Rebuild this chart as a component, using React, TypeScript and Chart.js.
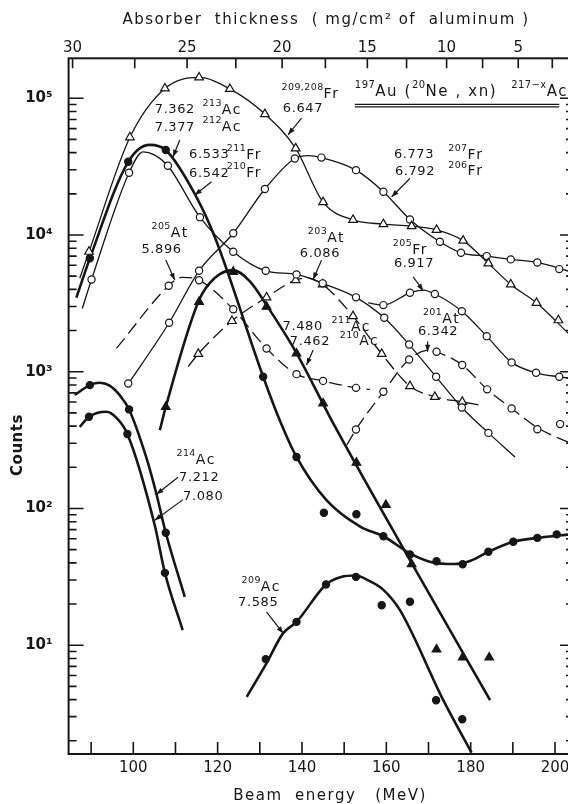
import { useEffect, useRef } from 'react';
import { Chart, registerables } from 'chart.js';

Chart.register(...registerables);

const INK = '#161616';
const FONT = "'DejaVu Sans', sans-serif";

// ---- axis ranges -------------------------------------------------------
const ENERGY_MIN = 84.66;
const ENERGY_MAX = 203.55;
const COUNTS_MIN = 1.6;
const COUNTS_MAX = 196000;

// beam energy ticks (MeV)
const energyTicks = [90, 100, 110, 120, 130, 140, 150, 160, 170, 180, 190, 200];
// absorber thickness (mg/cm² Al) and the beam energy each thickness gives
const absorberTicks = [30, 27.5, 25, 22.5, 20, 17.5, 15, 12.5, 10, 7.5, 5, 2.5];
const absorberEnergy = [85.6, 100.34, 112.75, 124.31, 135.29, 145.54, 155.5, 164.8, 174.29, 182.83, 191.28, 199.35];
const absorberLabels = [30, 25, 20, 15, 10, 5];
const countDecades = [10, 100, 1000, 10000, 100000];

// ---- excitation functions ----------------------------------------------
// 209,208Fr  (6.647 MeV)  open triangles
const fr209PointE = [89.5, 99.2, 107.5, 115.6, 122.9, 131.2, 138.5, 145.0, 152.1, 159.3, 166.0, 171.9, 178.2, 184.2, 189.5, 195.6, 200.8];
const fr209PointC = [7540, 51800, 118000, 142000, 117000, 76600, 43000, 17400, 12900, 12000, 11600, 10900, 9100, 6200, 4350, 3190, 2380];
const fr209CurveE = [87.3, 89.5, 99.2, 107.5, 115.6, 122.9, 131.2, 138.5, 145.0, 152.1, 159.3, 166.0, 171.9, 178.2, 184.2, 189.5, 195.6, 203.6];
const fr209CurveC = [4820, 7540, 51800, 118000, 142000, 117000, 76600, 43000, 17400, 12900, 12000, 11600, 10900, 9100, 6200, 4350, 3190, 1850];

// 207,206Fr  (6.773 / 6.792 MeV)  open circles
const fr207PointE = [98.8, 108.5, 115.6, 123.7, 131.2, 138.3, 144.6, 152.8, 159.3, 165.6, 172.7, 177.7, 183.8, 189.5, 195.8, 201.0];
const fr207PointC = [820, 2280, 5470, 10300, 21700, 36300, 36800, 29800, 20700, 13000, 8920, 7410, 7010, 6630, 6300, 5630];
const fr207CurveE = [98.4, 108.5, 115.6, 123.7, 131.2, 138.3, 141.5, 144.6, 152.8, 159.3, 165.6, 172.7, 177.7, 183.8, 189.5, 195.8, 203.6];
const fr207CurveC = [780, 2280, 5470, 10300, 21700, 36300, 38000, 36800, 29800, 20700, 13000, 8920, 7410, 7010, 6630, 6300, 5400];

// 211,210Fr  (6.533 / 6.542 MeV)  open circles
const fr211PointE = [90.1, 99.0, 108.2, 115.8, 123.7, 131.4, 138.7, 144.9, 152.8, 159.5, 165.4, 171.8, 177.9, 184.2];
const fr211PointC = [4730, 28500, 32100, 13500, 7540, 5470, 5150, 4430, 3500, 2480, 1580, 918, 548, 357];
const fr211CurveE = [87.9, 90.1, 99.0, 102.3, 105.1, 108.2, 115.8, 123.7, 131.4, 138.7, 144.9, 152.8, 159.5, 165.4, 171.8, 177.9, 184.2, 190.5];
const fr211CurveC = [2900, 4730, 28500, 40600, 38400, 32100, 13500, 7540, 5470, 5150, 4430, 3500, 2480, 1580, 918, 548, 357, 238];

// 213,212Ac  (7.362 / 7.377 MeV)  filled circles
const ac213PointE = [89.7, 98.8, 107.7, 130.8, 138.7, 145.2, 152.9, 159.3, 165.6, 171.9, 178.1, 184.2, 190.1, 195.8, 200.4];
const ac213PointC = [6750, 34300, 41800, 918, 238, 92.9, 90.8, 62.6, 46.1, 41.1, 39.1, 48.2, 57.1, 60.9, 64.6];
const ac213CurveE = [86.5, 89.7, 98.8, 103.9, 107.7, 114.6, 119.3, 130.8, 134.7, 138.7, 145.8, 153.9, 159.3, 165.6, 171.0, 176.0, 180.0, 184.2, 190.1, 195.8, 203.6];
const ac213CurveC = [3480, 6750, 34300, 45600, 41800, 19900, 9710, 918, 443, 238, 115, 73.3, 62.6, 46.9, 40.2, 39.2, 41.5, 48.2, 57.1, 60.9, 64.6];

// 211,210Ac  (7.480 / 7.462 MeV)  filled triangles
const ac211PointE = [107.7, 115.6, 123.7, 131.6, 138.7, 145.0, 152.9, 159.9, 166.0, 171.9, 178.1, 184.4];
const ac211PointC = [553, 3240, 5380, 2990, 1360, 587, 216, 106, 39.1, 9.31, 8.13, 8.13];
const ac211CurveE = [106.3, 107.7, 115.6, 119.3, 123.7, 127.6, 131.6, 138.7, 147.0, 165.6, 184.6];
const ac211CurveC = [374, 553, 3340, 4840, 5530, 4600, 3070, 1370, 443, 41.9, 3.96];

// 214Ac  (7.212 MeV)  filled circles
const ac214aPointE = [89.7, 99.0, 107.7];
const ac214aPointC = [798, 530, 66.4];
const ac214aCurveE = [86.1, 89.7, 92.0, 94.4, 97.0, 99.0, 103.1, 105.5, 107.7, 112.2];
const ac214aCurveC = [676, 798, 830, 790, 660, 530, 235, 127, 66.4, 22.6];

// 214Ac  (7.080 MeV)  filled circles
const ac214bPointE = [89.5, 98.6, 107.5];
const ac214bPointC = [468, 350, 33.8];
const ac214bCurveE = [87.3, 89.5, 93.6, 96.0, 98.6, 105.1, 107.5, 111.7];
const ac214bCurveC = [395, 468, 509, 460, 350, 75, 33.8, 12.9];

// 209Ac  (7.585 MeV)  filled circles
const ac209PointE = [131.4, 138.7, 145.7, 152.8, 158.9, 165.6, 171.8, 178.0];
const ac209PointC = [7.91, 14.8, 27.8, 31.6, 19.6, 20.8, 3.96, 2.87];
const ac209CurveE = [126.9, 131.4, 135.5, 138.7, 145.7, 149.3, 152.6, 156.0, 159.3, 163.2, 173.5, 180.2];
const ac209CurveC = [4.19, 7.2, 12.2, 14.8, 27.8, 31.5, 32.3, 29.5, 25.4, 18.1, 3.96, 1.64];

// 205At  (5.896 MeV)  open circles, dashed
const at205PointE = [108.4, 115.6, 123.7, 131.6, 138.7, 145.0, 152.8];
const at205PointC = [4250, 4670, 2860, 1480, 960, 857, 762];
const at205CurveE = [96.0, 108.4, 111.5, 115.6, 123.7, 131.6, 138.7, 145.0, 152.8, 156.1];
const at205CurveC = [1480, 4250, 4900, 4670, 2860, 1480, 960, 857, 762, 743];

// 203At  (6.086 MeV)  open triangles, dashed
const at203PointE = [115.4, 123.4, 131.6, 138.5, 144.9, 152.1, 158.9, 165.6, 171.5, 178.0];
const at203PointC = [1350, 2350, 3500, 4680, 4350, 2550, 1350, 785, 655, 602];
const at203CurveE = [113.0, 115.4, 123.4, 131.6, 138.5, 141.4, 144.9, 152.1, 158.9, 165.6, 171.5, 178.0, 182.2];
const at203CurveC = [1090, 1350, 2350, 3500, 4680, 4840, 4350, 2550, 1350, 785, 655, 602, 570];

// 201At  (6.342 MeV)  open circles, dashed
const at201PointE = [152.8, 159.3, 165.4, 171.9, 178.0, 183.9, 189.7, 195.8, 201.2];
const at201PointC = [378, 713, 1230, 1400, 1120, 743, 539, 380, 414];
const at201CurveE = [150.6, 152.8, 159.3, 165.4, 170.3, 171.9, 178.0, 183.9, 189.7, 195.8, 203.6];
const at201CurveC = [290, 378, 713, 1230, 1440, 1400, 1120, 743, 539, 390, 300];

// 205Fr  (6.917 MeV)  open circles
const fr205PointE = [159.3, 165.6, 171.5, 177.9, 183.8, 189.7, 195.5, 201.0];
const fr205PointC = [3070, 3780, 3700, 2770, 1820, 1170, 982, 918];
const fr205CurveE = [155.7, 159.3, 165.6, 168.8, 171.5, 177.9, 183.8, 189.7, 195.5, 201.0, 203.6];
const fr205CurveC = [3190, 3070, 3780, 3950, 3700, 2770, 1820, 1170, 982, 918, 897];

// ---- annotations (anchored in beam energy / counts) --------------------
const alphaNotes = [
  { text: '6.647', e: 135.46, c: 84100 },
  { text: '7.362', e: 105.09, c: 82000 },
  { text: '7.377', e: 105.09, c: 61300 },
  { text: '6.533', e: 113.23, c: 38500 },
  { text: '6.542', e: 113.23, c: 28200 },
  { text: '6.773', e: 161.79, c: 38500 },
  { text: '6.792', e: 162.03, c: 29000 },
  { text: '5.896', e: 101.93, c: 7760 },
  { text: '6.086', e: 139.49, c: 7330 },
  { text: '6.917', e: 161.79, c: 6200 },
  { text: '6.342', e: 167.49, c: 1960 },
  { text: '7.480', e: 135.39, c: 2130 },
  { text: '7.462', e: 137.12, c: 1660 },
  { text: '7.212', e: 110.85, c: 169 },
  { text: '7.080', e: 111.8, c: 122 },
  { text: '7.585', e: 124.85, c: 20.4 },
];

const isotopeNotes = [
  { mass: '209,208', sym: 'Fr', e: 135.15, c: 107400 },
  { mass: '213', sym: 'Ac', e: 116.41, c: 82000 },
  { mass: '212', sym: 'Ac', e: 116.41, c: 61300 },
  { mass: '211', sym: 'Fr', e: 122.17, c: 38500 },
  { mass: '210', sym: 'Fr', e: 122.17, c: 28200 },
  { mass: '207', sym: 'Fr', e: 174.67, c: 38500 },
  { mass: '206', sym: 'Fr', e: 174.67, c: 29000 },
  { mass: '205', sym: 'At', e: 104.31, c: 10300 },
  { mass: '203', sym: 'At', e: 141.39, c: 9490 },
  { mass: '205', sym: 'Fr', e: 161.55, c: 7760 },
  { mass: '201', sym: 'At', e: 168.67, c: 2430 },
  { mass: '211', sym: 'Ac', e: 147.01, c: 2120 },
  { mass: '210', sym: 'Ac', e: 148.98, c: 1660 },
  { mass: '214', sym: 'Ac', e: 110.24, c: 225 },
  { mass: '209', sym: 'Ac', e: 125.66, c: 26.5 },
];

const arrowNotes = [
  { from: [139.89, 71700], to: [136.71, 54200] },
  { from: [111.02, 49500], to: [109.43, 37300] },
  { from: [118.54, 24500], to: [114.58, 19600] },
  { from: [165.59, 25900], to: [161.25, 19000] },
  { from: [107.7, 6550], to: [109.83, 4680] },
  { from: [144.64, 6550], to: [142.65, 4730] },
  { from: [166.37, 4940], to: [168.74, 3910] },
  { from: [169.79, 1660], to: [169.79, 1400] },
  { from: [142.65, 1440], to: [141.08, 1120] },
  { from: [110.62, 169], to: [105.49, 127] },
  { from: [111.8, 116], to: [105.09, 82.1] },
  { from: [131.59, 17.5], to: [135.53, 12.2] },
];

const reactionNote = { e: 152.54, c: 111000, underlineEnd: 201.0 };

// ---- dataset helpers ---------------------------------------------------
const pairs = (es: number[], cs: number[]) => es.map((e, i) => ({ x: e, y: cs[i] }));

function curve(es: number[], cs: number[], width: number, dashed = false) {
  return {
    data: pairs(es, cs),
    borderColor: INK,
    borderWidth: width,
    borderDash: dashed ? [13, 6] : [],
    pointRadius: 0,
    cubicInterpolationMode: 'monotone',
    fill: false,
    order: 2,
  };
}

function marks(es: number[], cs: number[], style: string, filled: boolean) {
  const tri = style === 'triangle';
  return {
    data: pairs(es, cs),
    showLine: false,
    pointStyle: style,
    pointRadius: tri ? 5 : 3.6,
    pointBackgroundColor: filled ? INK : '#fff',
    pointBorderColor: INK,
    pointBorderWidth: 1.2,
    order: 1,
  };
}

const SUP: Record<string, string> = { '0': '⁰', '1': '¹', '2': '²', '3': '³', '4': '⁴', '5': '⁵', '6': '⁶', '7': '⁷', '8': '⁸', '9': '⁹' };

function setSpacing(ctx: any, px: number) {
  ctx.letterSpacing = px + 'px';
}

function drawArrow(ctx: any, x1: number, y1: number, x2: number, y2: number) {
  ctx.beginPath();
  ctx.moveTo(x1, y1);
  ctx.lineTo(x2, y2);
  ctx.stroke();
  const a = Math.atan2(y2 - y1, x2 - x1);
  const L = 7;
  const W = 2.6;
  ctx.beginPath();
  ctx.moveTo(x2, y2);
  ctx.lineTo(x2 - L * Math.cos(a) + W * Math.sin(a), y2 - L * Math.sin(a) - W * Math.cos(a));
  ctx.lineTo(x2 - L * Math.cos(a) - W * Math.sin(a), y2 - L * Math.sin(a) + W * Math.cos(a));
  ctx.closePath();
  ctx.fill();
}

// draws a run of [text, isSuperscript] pieces starting at x, middle at y
function drawRun(ctx: any, x: number, y: number, pieces: [string, boolean][], mainSize: number, supSize: number) {
  let cx = x;
  for (const [t, sup] of pieces) {
    ctx.font = `${sup ? supSize : mainSize}px ${FONT}`;
    setSpacing(ctx, sup ? 0.4 : 1.6);
    ctx.fillText(t, cx, sup ? y - 6.5 : y);
    cx += ctx.measureText(t).width;
  }
  return cx;
}

const decorations = {
  id: 'decorations',
  afterDraw(chart: any) {
    const { ctx, chartArea: area, scales } = chart;
    const px = (e: number) => scales.x.getPixelForValue(e);
    const py = (c: number) => scales.y.getPixelForValue(c);
    ctx.save();
    ctx.strokeStyle = INK;
    ctx.fillStyle = INK;

    // frame
    ctx.lineWidth = 2;
    ctx.strokeRect(area.left, area.top, area.right - area.left, area.bottom - area.top);

    // inward tick marks
    ctx.lineWidth = 1.6;
    ctx.beginPath();
    energyTicks.forEach((e) => {
      const p = px(e);
      ctx.moveTo(p, area.bottom);
      ctx.lineTo(p, area.bottom - 12);
    });
    absorberEnergy.forEach((e) => {
      const p = px(e);
      ctx.moveTo(p, area.top);
      ctx.lineTo(p, area.top + 10);
    });
    for (let n = 0; n <= 5; n++) {
      for (let m = 1; m <= 9; m++) {
        const v = m * Math.pow(10, n);
        if (v < COUNTS_MIN || v > COUNTS_MAX) continue;
        const p = py(v);
        const major = m === 1;
        ctx.moveTo(area.left, p);
        ctx.lineTo(area.left + (major ? 15 : 8), p);
        ctx.moveTo(area.right, p);
        ctx.lineTo(area.right - (major ? 10 : 4), p);
      }
    }
    ctx.stroke();

    // axis titles
    ctx.textBaseline = 'middle';
    ctx.textAlign = 'center';
    ctx.font = `15px ${FONT}`;
    setSpacing(ctx, 1.5);
    ctx.fillText('Absorber  thickness  ( mg/cm² of  aluminum )', 326, 20);
    ctx.fillText('Beam  energy   (MeV)', 330, 796);
    ctx.save();
    ctx.translate(18, 445);
    ctx.rotate(-Math.PI / 2);
    ctx.font = `bold 15px ${FONT}`;
    setSpacing(ctx, 0.5);
    ctx.fillText('Counts', 0, 0);
    ctx.restore();

    // alpha-energy labels
    ctx.textAlign = 'left';
    ctx.font = `13px ${FONT}`;
    setSpacing(ctx, 0.6);
    alphaNotes.forEach((n) => ctx.fillText(n.text, px(n.e), py(n.c)));

    // isotope labels
    isotopeNotes.forEach((n) => {
      drawRun(ctx, px(n.e), py(n.c), [[n.mass, true], [n.sym, false]], 14, 9.5);
    });

    // reaction title with double underline
    const rx = px(reactionNote.e);
    const ry = py(reactionNote.c);
    const end = drawRun(ctx, rx, ry, [['197', true], ['Au (', false], ['20', true], ['Ne , xn)', false]], 15, 10);
    drawRun(ctx, end + 14, ry, [['217−x', true], ['Ac', false]], 15, 10);
    ctx.lineWidth = 1.1;
    ctx.beginPath();
    const ux = px(reactionNote.underlineEnd);
    ctx.moveTo(rx, ry + 12.3);
    ctx.lineTo(ux, ry + 12.3);
    ctx.moveTo(rx, ry + 14.8);
    ctx.lineTo(ux, ry + 14.8);
    ctx.stroke();

    // arrows
    ctx.lineWidth = 1.2;
    arrowNotes.forEach((a) => drawArrow(ctx, px(a.from[0]), py(a.from[1]), px(a.to[0]), py(a.to[1])));

    setSpacing(ctx, 0);
    ctx.restore();
  },
};

export default function App() {
  const canvasRef = useRef<HTMLCanvasElement | null>(null);

  useEffect(() => {
    const canvas = canvasRef.current;
    if (!canvas) return;
    Chart.defaults.font.family = FONT;
    Chart.defaults.color = INK;

    const datasets: any[] = [
      curve(fr209CurveE, fr209CurveC, 1.3),
      curve(fr207CurveE, fr207CurveC, 1.3),
      curve(fr211CurveE, fr211CurveC, 1.3),
      curve(fr205CurveE, fr205CurveC, 1.3),
      curve(at205CurveE, at205CurveC, 1.3, true),
      curve(at203CurveE, at203CurveC, 1.3, true),
      curve(at201CurveE, at201CurveC, 1.3, true),
      curve(ac213CurveE, ac213CurveC, 2.6),
      curve(ac211CurveE, ac211CurveC, 2.6),
      curve(ac214aCurveE, ac214aCurveC, 2.6),
      curve(ac214bCurveE, ac214bCurveC, 2.6),
      curve(ac209CurveE, ac209CurveC, 2.6),
      marks(fr209PointE, fr209PointC, 'triangle', false),
      marks(fr207PointE, fr207PointC, 'circle', false),
      marks(fr211PointE, fr211PointC, 'circle', false),
      marks(fr205PointE, fr205PointC, 'circle', false),
      marks(at205PointE, at205PointC, 'circle', false),
      marks(at203PointE, at203PointC, 'triangle', false),
      marks(at201PointE, at201PointC, 'circle', false),
      marks(ac213PointE, ac213PointC, 'circle', true),
      marks(ac211PointE, ac211PointC, 'triangle', true),
      marks(ac214aPointE, ac214aPointC, 'circle', true),
      marks(ac214bPointE, ac214bPointC, 'circle', true),
      marks(ac209PointE, ac209PointC, 'circle', true),
    ];

    const chart = new Chart(canvas, {
      type: 'line',
      data: { datasets },
      options: {
        animation: false,
        responsive: false,
        devicePixelRatio: 1,
        events: [],
        layout: { padding: { left: 0, right: 10, top: 0, bottom: 0 } },
        plugins: { legend: { display: false }, tooltip: { enabled: false } },
        scales: {
          x: {
            type: 'linear',
            position: 'bottom',
            min: ENERGY_MIN,
            max: ENERGY_MAX,
            bounds: 'data',
            grid: { display: false, drawTicks: false },
            border: { display: false },
            afterBuildTicks: (s: any) => {
              s.ticks = energyTicks.map((v) => ({ value: v }));
            },
            afterFit: (s: any) => {
              s.height = 50;
            },
            ticks: {
              autoSkip: false,
              maxRotation: 0,
              padding: 5,
              font: { size: 15 },
              callback: (v: any) => (Number(v) % 20 === 0 ? String(v) : ''),
            },
          },
          x2: {
            type: 'linear',
            position: 'top',
            min: ENERGY_MIN,
            max: ENERGY_MAX,
            bounds: 'data',
            grid: { display: false, drawTicks: false },
            border: { display: false },
            afterBuildTicks: (s: any) => {
              s.ticks = absorberLabels.map((t) => ({ value: absorberEnergy[absorberTicks.indexOf(t)] }));
            },
            afterFit: (s: any) => {
              s.height = 58.3;
            },
            ticks: {
              autoSkip: false,
              maxRotation: 0,
              padding: 1,
              font: { size: 15 },
              callback: (_v: any, i: number) => String(absorberLabels[i]),
            },
          },
          y: {
            type: 'logarithmic',
            position: 'left',
            min: COUNTS_MIN,
            max: COUNTS_MAX,
            bounds: 'data',
            grid: { display: false, drawTicks: false },
            border: { display: false },
            afterBuildTicks: (s: any) => {
              s.ticks = countDecades.map((v) => ({ value: v }));
            },
            afterFit: (s: any) => {
              s.width = 68.6;
            },
            ticks: {
              autoSkip: false,
              padding: 16,
              font: { size: 15, weight: 'bold' },
              callback: (v: any) => {
                const n = String(Math.round(Math.log10(Number(v))));
                return '10' + n.split('').map((d) => SUP[d]).join('');
              },
            },
          },
        },
      } as any,
      plugins: [decorations],
    });

    return () => chart.destroy();
  }, []);

  return (
    <div
      style={{
        position: 'fixed',
        left: 0,
        top: 0,
        width: 568,
        height: 804,
        overflow: 'hidden',
        background: '#fff',
      }}
    >
      <canvas ref={canvasRef} width={580} height={804} style={{ display: 'block', width: 580, height: 804 }} />
    </div>
  );
}
